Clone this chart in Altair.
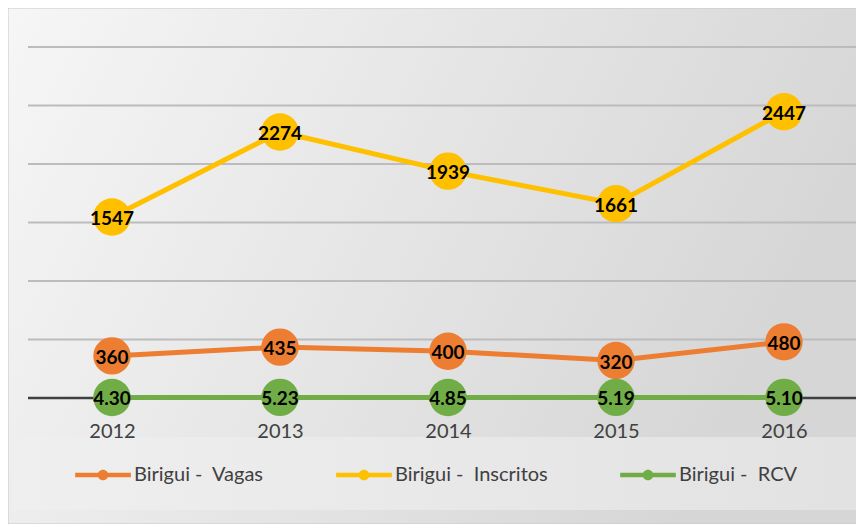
import altair as alt
import pandas as pd

years = [2012, 2013, 2014, 2015, 2016]
series_names = ["Birigui -\u00a0 Vagas", "Birigui -\u00a0 Inscritos", "Birigui -\u00a0 RCV"]
vagas = [360, 435, 400, 320, 480]
inscritos = [1547, 2274, 1939, 1661, 2447]
rcv = [4.30, 5.23, 4.85, 5.19, 5.10]
colors = ["#ED7D31", "#FFC000", "#70AD47"]
grid_values = [0, 500, 1000, 1500, 2000, 2500, 3000]

rows = []
for name, vals, fmt in zip(series_names, [vagas, inscritos, rcv], ["{:.0f}", "{:.0f}", "{:.2f}"]):
    for y, v in zip(years, vals):
        rows.append({"year": y, "series": name, "value": v, "label": fmt.format(v)})
df = pd.DataFrame(rows)
grid_df = pd.DataFrame({"g": grid_values[1:]})
zero_df = pd.DataFrame({"g": [0]})
one = pd.DataFrame({"a": [0]})

W, H = 828, 351
FONT = "Lato"

xscale = alt.Scale(domain=[2011.5, 2011.5 + W / 168.0], nice=False, zero=False)
yscale = alt.Scale(domain=[0, 3000], nice=False)
cscale = alt.Scale(domain=series_names, range=colors)

bg = alt.Chart(one).mark_rect(
    color=alt.Gradient(gradient="linear", x1=0, x2=1, y1=0, y2=0.3,
                       stops=[alt.GradientStop(color="#f6f6f6", offset=0),
                              alt.GradientStop(color="#d6d6d6", offset=1)]),
    stroke="#c8c8c8", strokeWidth=1
).encode(x=alt.value(-20), x2=alt.value(W + 5), y=alt.value(-39), y2=alt.value(H + 126))

legbox = alt.Chart(one).mark_rect(
    color=alt.Gradient(gradient="linear", x1=0, x2=1, y1=0, y2=0,
                       stops=[alt.GradientStop(color="#efefef", offset=0),
                              alt.GradientStop(color="#e2e2e2", offset=1)]),
).encode(x=alt.value(-16), x2=alt.value(W + 5), y=alt.value(H + 39), y2=alt.value(H + 112))

grid = alt.Chart(grid_df).mark_rule(color="#bcbcbc", strokeWidth=2).encode(
    y=alt.Y("g:Q", scale=yscale, axis=None))
zero = alt.Chart(zero_df).mark_rule(color="#404040", strokeWidth=2.5).encode(
    y=alt.Y("g:Q", scale=yscale, axis=None))

base = alt.Chart(df).encode(
    x=alt.X("year:Q", scale=xscale,
            axis=alt.Axis(values=years, format="d", title=None, grid=False, domain=False,
                          ticks=False, labelFontSize=20, labelFont=FONT, labelColor="#404040",
                          labelPadding=23, zindex=2)),
    y=alt.Y("value:Q", scale=yscale, axis=None),
)

path = ("M-1,-0.085H1V0.085H-1Z "
        "M0.19,0A0.19,0.19,0,1,1,-0.19,0A0.19,0.19,0,1,1,0.19,0Z")

lines = base.mark_line(strokeWidth=5).encode(
    color=alt.Color("series:N", scale=cscale,
                    legend=alt.Legend(title=None, orient="none", legendX=47, legendY=400,
                                      direction="horizontal", symbolType=path, symbolSize=3100,
                                      symbolStrokeWidth=0, symbolFillColor="#888888",
                                      labelFontSize=20, labelFont=FONT,
                                      labelColor="#404040", labelOffset=3, columnPadding=72,
                                      labelLimit=300, padding=0, zindex=2)))
pts = base.mark_circle(size=1400, opacity=1).encode(
    color=alt.Color("series:N", scale=cscale, legend=None))
texts = base.mark_text(fontSize=19, fontWeight="bold", font=FONT, color="black",
                       baseline="middle", dy=2).encode(text="label:N")

chart = alt.layer(bg, legbox, grid, zero, lines, pts, texts).properties(
    width=W, height=H,
    padding={"left": 20, "top": 39, "right": 0, "bottom": 126},
    autosize=alt.AutoSizeParams(type="none"),
).configure_view(stroke=None)

chart.save("out.html", embed_options={"renderer": "svg", "actions": False})
